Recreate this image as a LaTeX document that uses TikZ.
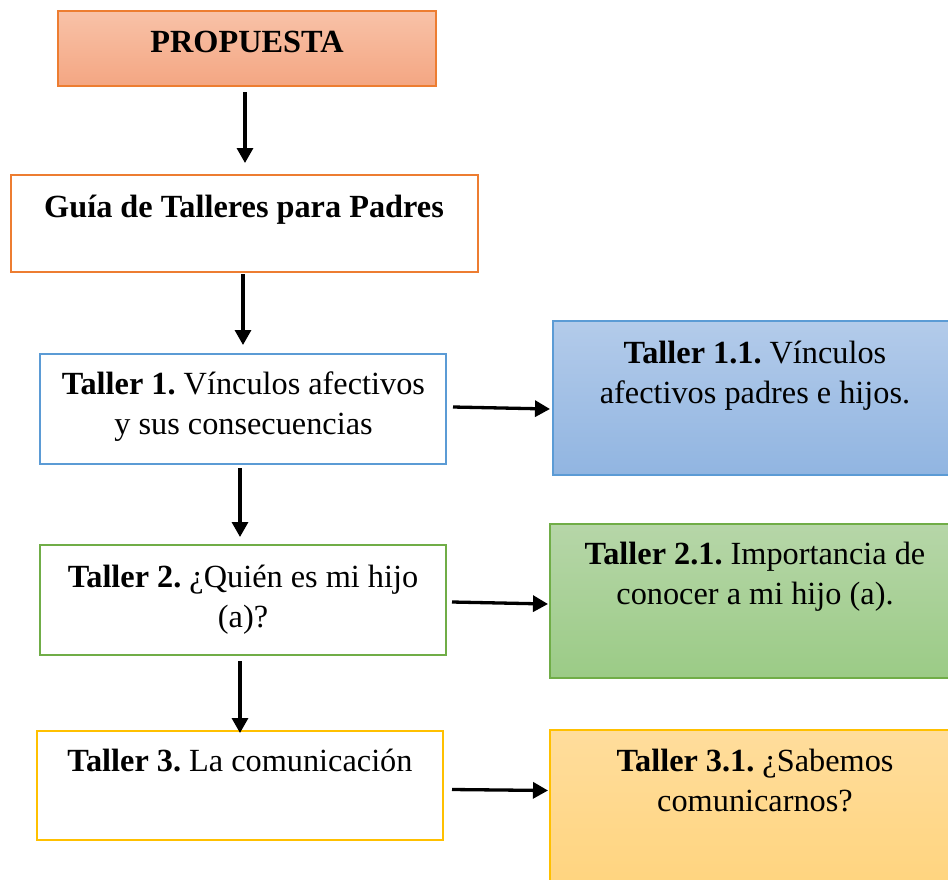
\documentclass[tikz,border=0pt]{standalone}
\usepackage{fontspec}
\setmainfont{Liberation Serif}
\usetikzlibrary{arrows.meta}
\frenchspacing
\definecolor{orng}{HTML}{ED7D31}
\definecolor{orngT}{HTML}{F8C2A8}
\definecolor{orngB}{HTML}{F4A682}
\definecolor{blu}{HTML}{5B9BD5}
\definecolor{bluT}{HTML}{B3CBEA}
\definecolor{bluB}{HTML}{91B5E1}
\definecolor{grn}{HTML}{70AD47}
\definecolor{grnT}{HTML}{B6D6A8}
\definecolor{grnB}{HTML}{9BCB86}
\definecolor{gld}{HTML}{FFC000}
\definecolor{gldT}{HTML}{FFDD9C}
\definecolor{gldB}{HTML}{FFD47E}
\begin{document}
\begin{tikzpicture}[x=1pt,y=-1pt,
  box/.style={rectangle, line width=2pt, inner sep=0pt, outer sep=0pt},
  txt/.style={font=\fontsize{32.3}{40}\selectfont\frenchspacing, align=center, inner sep=0pt, anchor=base},
  arr/.style={line width=3.3pt, -{Triangle[length=15pt,width=16pt]}}]
\useasboundingbox (0,0) rectangle (948,879);
% boxes
\node[box, draw=orng, top color=orngT, bottom color=orngB, minimum width=378pt, minimum height=75pt] (prop) at (247,48.5) {};
\node[box, draw=orng, fill=white, minimum width=467pt, minimum height=97pt] (guia) at (244.5,223.5) {};
\node[box, draw=blu, fill=white, minimum width=406pt, minimum height=110pt] (t1) at (243,409) {};
\node[box, draw=blu, top color=bluT, bottom color=bluB, minimum width=404pt, minimum height=154pt] (t11) at (755,398) {};
\node[box, draw=grn, fill=white, minimum width=406pt, minimum height=110pt] (t2) at (243,600) {};
\node[box, draw=grn, top color=grnT, bottom color=grnB, minimum width=410pt, minimum height=154pt] (t21) at (755,601) {};
\node[box, draw=gld, fill=white, minimum width=406pt, minimum height=109pt] (t3) at (240,785.5) {};
\node[box, draw=gld, top color=gldT, bottom color=gldB, minimum width=410pt, minimum height=160pt] (t31) at (755,810) {};
% texts (anchor=base is the baseline of the last line)
\node[txt] (propT) at (247,52) {\textbf{PROPUESTA}};
\node[txt] (guiaT) at (244,217) {\textbf{Guía de Talleres para Padres}};
\node[txt] (t1T) at (243.5,434) {\textbf{Taller 1.} Vínculos afectivos\\y sus consecuencias};
\node[txt] (t11T) at (755,403) {\textbf{Taller 1.1.} Vínculos\\afectivos padres e hijos.};
\node[txt] (t2T) at (243,627) {\textbf{Taller 2.} ¿Quién es mi hijo\\(a)?};
\node[txt] (t21T) at (755,604) {\textbf{Taller 2.1.} Importancia de\\conocer a mi hijo (a).};
\node[txt] (t3T) at (240,771) {\textbf{Taller 3.} La comunicación};
\node[txt] (t31T) at (755,811) {\textbf{Taller 3.1.} ¿Sabemos\\comunicarnos?};
% vertical arrows
\draw[arr] ([shift={(-2,6)}]prop.south) -- ([shift={(-2,-12)}]prop.south |- guia.north);
\draw[arr] ([shift={(-1.5,2)}]guia.south) -- ([shift={(-1.5,-9)}]guia.south |- t1.north);
\draw[arr] ([shift={(-3,4)}]t1.south) -- ([shift={(-3,-8)}]t1.south |- t2.north);
\draw[arr] ([shift={(-3,6)}]t2.south) -- ([shift={(-3,2)}]t2.south |- t3.north);
% horizontal arrows
\draw[arr] ([shift={(7,-2)}]t1.east) -- ([shift={(-3,0)}]t11.west |- t1.east);
\draw[arr] ([shift={(6,2)}]t2.east) -- ([shift={(-2,4)}]t21.west |- t2.east);
\draw[arr] ([shift={(9,4)}]t3.east) -- ([shift={(-2,5)}]t31.west |- t3.east);
\end{tikzpicture}
\end{document}
